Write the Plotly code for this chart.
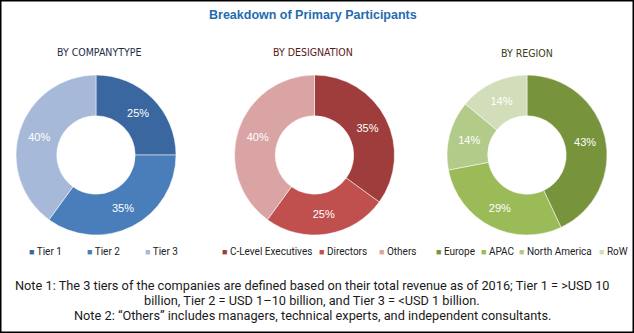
import plotly.graph_objects as go

W, H = 634, 333

# ---- data ----
title = "Breakdown of Primary Participants"
company_labels = ["Tier 1", "Tier 2", "Tier 3"]
company_values = [25, 35, 40]
designation_labels = ["C-Level Executives", "Directors", "Others"]
designation_values = [35, 25, 40]
region_labels = ["Europe", "APAC", "North America", "RoW"]
region_values = [43, 29, 14, 14]
subtitles = ["BY COMPANYTYPE", "BY DESIGNATION", "BY REGION"]
notes = [
    "Note 1: The 3 tiers of the companies are defined based on their total revenue as of 2016; Tier 1 = &gt;USD 10",
    "billion, Tier 2 = USD 1\u201310 billion, and Tier 3 = &lt;USD 1 billion.",
    "Note 2: \u201cOthers\u201d includes managers, technical experts, and independent consultants.",
]

# ---- styles / layout ----
company_colors = ["#3A67A0", "#4A7EBB", "#A7B9D9"]
designation_colors = ["#9E3D3B", "#C0504D", "#D9A4A3"]
region_colors = ["#77933C", "#9BBB59", "#B3CB88", "#D2DEBA"]
subtitle_colors = ["#1F2D4A", "#5A1A1A", "#3A4020"]
SUB_FONT = "DejaVu Sans Condensed, DejaVu Sans, sans-serif"
TEXT_FONT = "Roboto, sans-serif"

centers = [(96, 155), (314.5, 155), (527, 155)]
R = 80
subtitle_pos = [(99, 52), (313, 52), (527, 53)]
legend_x = [[27, 85, 143], [220, 317, 377], [434, 479, 517, 597]]
legend_y = 251
note_y = [285, 300, 315]


def px(x):
    return x / W


def py(y):
    return 1 - y / H


groups = [
    (company_labels, company_values, company_colors),
    (designation_labels, designation_values, designation_colors),
    (region_labels, region_values, region_colors),
]

fig = go.Figure()
for (labels, values, colors), (cx, cy) in zip(groups, centers):
    fig.add_trace(go.Pie(
        labels=labels, values=values, sort=False, direction="clockwise", rotation=0,
        hole=0.49,
        marker=dict(colors=colors, line=dict(color="white", width=0.5)),
        texttemplate="%{value}%", textposition="inside",
        insidetextorientation="horizontal",
        textfont=dict(color="white", size=11, family="Liberation Sans, Arial, sans-serif"),
        domain=dict(x=[px(cx - R), px(cx + R)], y=[py(cy + R), py(cy - R)]),
        showlegend=False, hoverinfo="label+percent",
    ))

annotations = []
annotations.append(dict(
    text=f"<b>{title}</b>", x=px(313), y=py(15), xref="paper", yref="paper",
    showarrow=False, xanchor="center", yanchor="middle",
    font=dict(family="Liberation Sans, Arial, sans-serif", size=12.5, color="#1F6CB0"),
))
for s, (sx, sy), c in zip(subtitles, subtitle_pos, subtitle_colors):
    annotations.append(dict(
        text=s, x=px(sx), y=py(sy), xref="paper", yref="paper", showarrow=False,
        xanchor="center", yanchor="middle", font=dict(family=SUB_FONT, size=10.5, color=c),
    ))
for (labels, values, colors), xs in zip(groups, legend_x):
    for lab, col, lx in zip(labels, colors, xs):
        annotations.append(dict(
            text=f'<span style="color:{col};font-size:9px">\u25a0</span> {lab}',
            x=px(lx), y=py(legend_y), xref="paper", yref="paper", showarrow=False,
            xanchor="left", yanchor="middle",
            font=dict(family=TEXT_FONT, size=10, color="#222222"),
        ))
for t, ny in zip(notes, note_y):
    annotations.append(dict(
        text=t, x=px(312), y=py(ny), xref="paper", yref="paper", showarrow=False,
        xanchor="center", yanchor="middle",
        font=dict(family=TEXT_FONT, size=12.75, color="#1a1a1a"),
    ))

fig.update_layout(
    width=W, height=H, margin=dict(l=0, r=0, t=0, b=0),
    paper_bgcolor="white", plot_bgcolor="white",
    annotations=annotations,
    shapes=[dict(type="rect", xref="paper", yref="paper", x0=0, y0=0, x1=1, y1=1,
                 line=dict(color="black", width=3))],
)

fig.write_html("out.html")
